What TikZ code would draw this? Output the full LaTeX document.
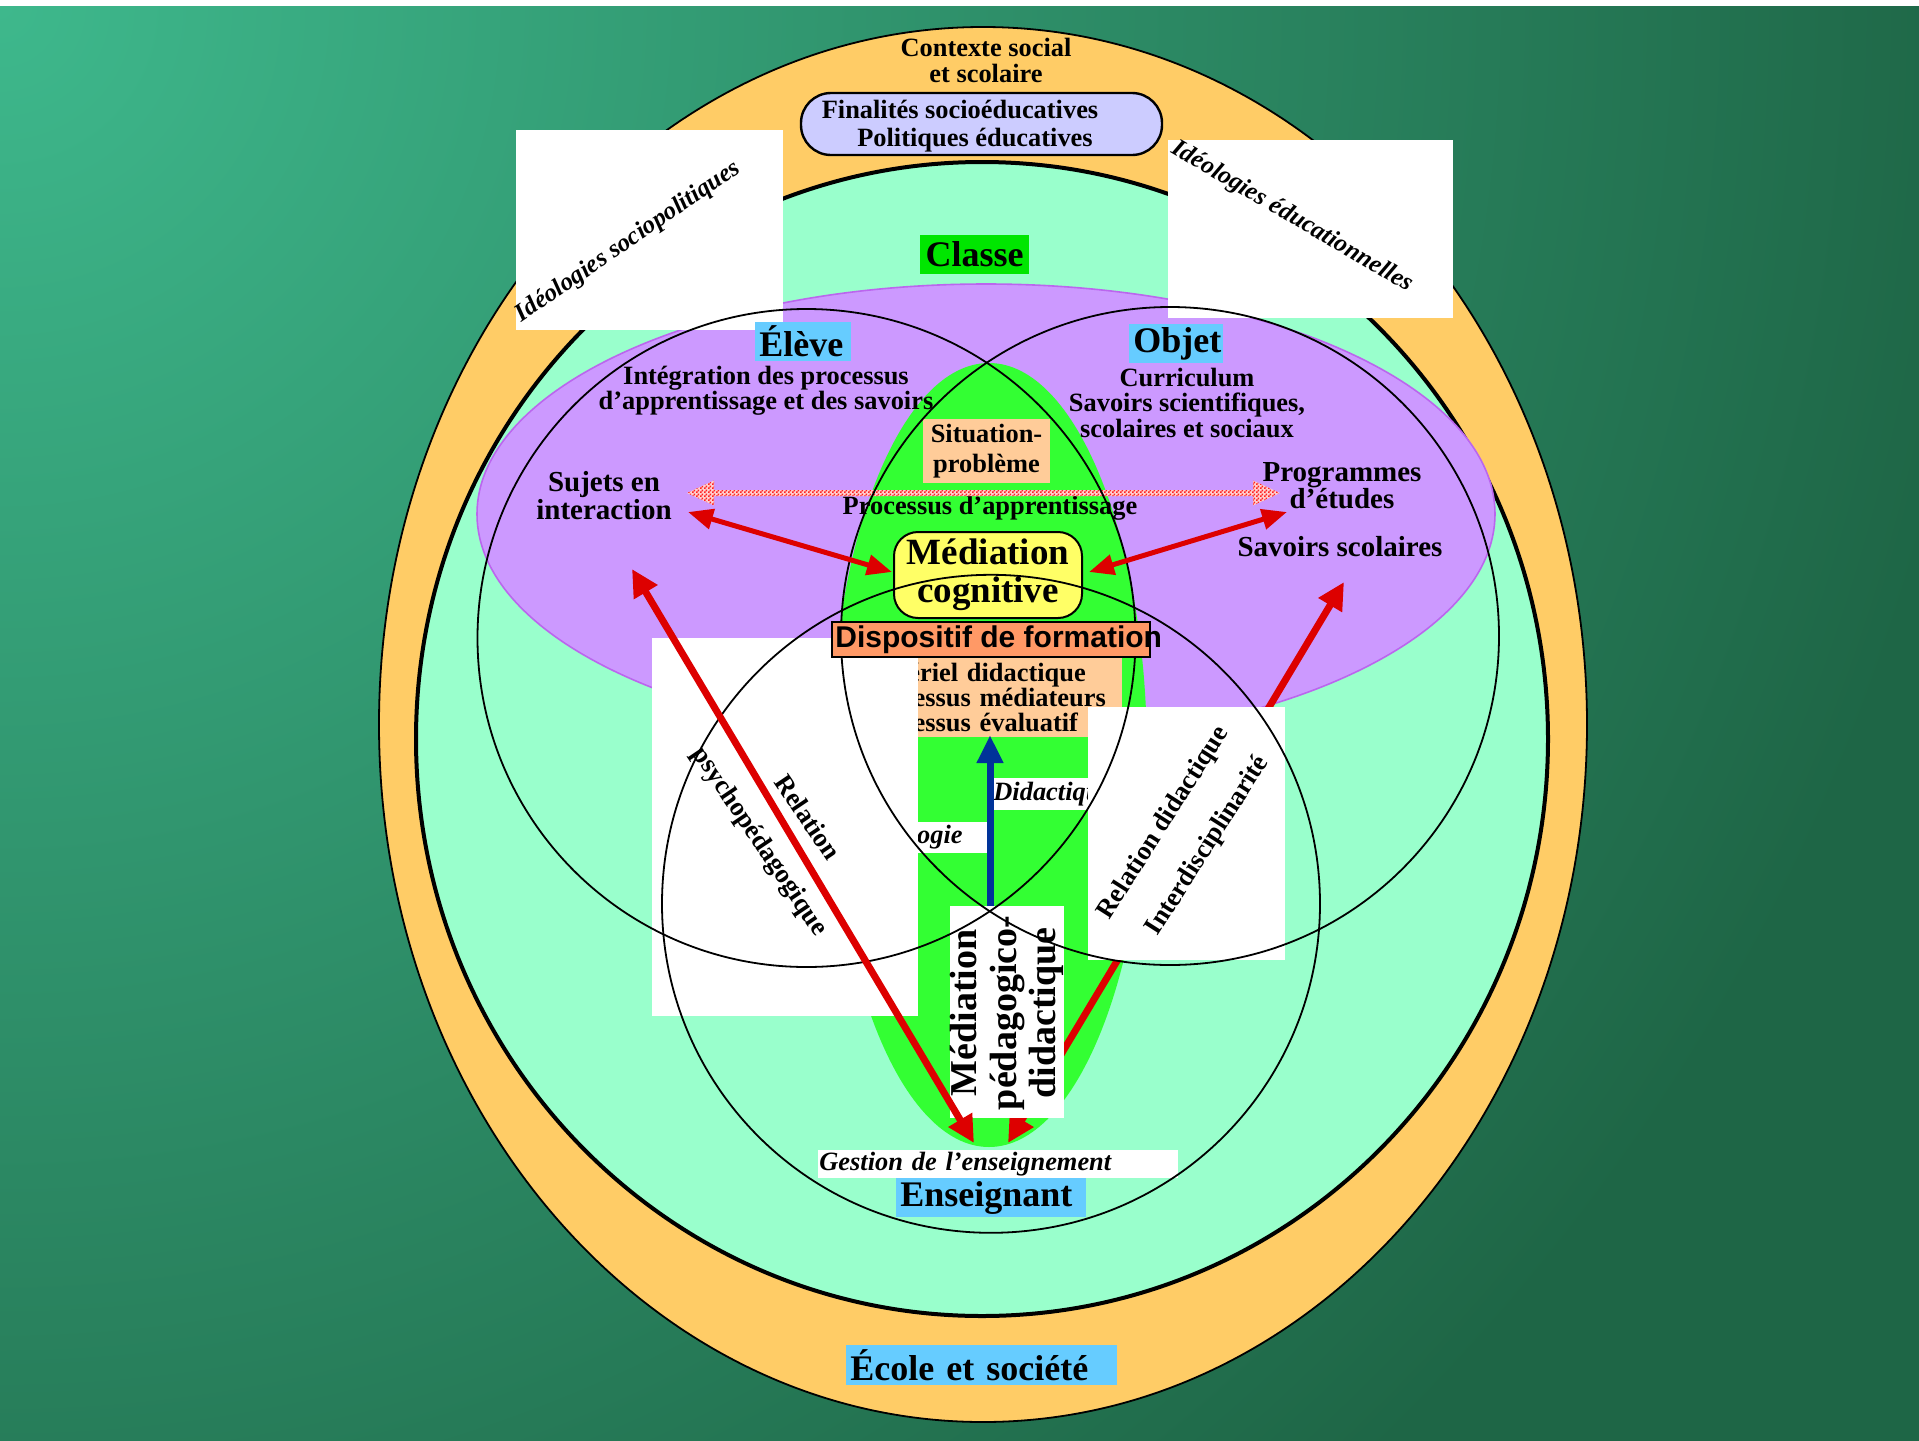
\documentclass[tikz,border=0pt]{standalone}
\usepackage{fontspec}
\setmainfont{Liberation Serif}
\newfontfamily\dispfont{Liberation Sans}
\usetikzlibrary{arrows.meta,patterns}
\pgfdeclarepatternformonly{finecheck}{\pgfpointorigin}{\pgfqpoint{2pt}{2pt}}{\pgfqpoint{2pt}{2pt}}{%
  \pgfpathrectangle{\pgfpointorigin}{\pgfqpoint{1pt}{1pt}}%
  \pgfpathrectangle{\pgfqpoint{1pt}{1pt}}{\pgfqpoint{1pt}{1pt}}%
  \pgfusepath{fill}}
\definecolor{bglight}{HTML}{3EB88C}
\definecolor{bgdark}{HTML}{1E6646}
\definecolor{bandorange}{HTML}{FFCC66}
\definecolor{mint}{HTML}{99FFCC}
\definecolor{lilac}{HTML}{CC99FF}
\definecolor{lilacline}{HTML}{BB66EE}
\definecolor{lensgreen}{HTML}{33FF33}
\definecolor{classegreen}{HTML}{00E600}
\definecolor{skyblue}{HTML}{66CCFF}
\definecolor{peach}{HTML}{FFCC99}
\definecolor{lemon}{HTML}{FFFF66}
\definecolor{salmon}{HTML}{FF9966}
\definecolor{lavender}{HTML}{CCCCFF}
\definecolor{arrred}{HTML}{DD0000}
\definecolor{arrblue}{HTML}{003399}
\definecolor{checkred}{HTML}{FF2222}
\definecolor{checkbase}{HTML}{FFD0D0}
\tikzset{
  body/.style={font=\fontsize{13.2}{12.6}\selectfont\bfseries, inner sep=0pt, align=center},
  bigger/.style={font=\fontsize{14.5}{14}\selectfont\bfseries, inner sep=0pt, align=center},
  head/.style={font=\fontsize{18}{19}\selectfont\bfseries, inner xsep=2pt, inner ysep=0pt,
    minimum height=19.5pt, fill=skyblue, anchor=west, align=left},
  whitebox/.style={fill=white},
  rottxt/.style={font=\fontsize{12.6}{13}\selectfont\bfseries\itshape, inner sep=0pt},
  reltxt/.style={font=\fontsize{13.3}{13}\selectfont\bfseries, inner sep=0pt},
  circ/.style={draw=black, line width=0.9pt},
  redshort/.style={draw=arrred, line width=2.5pt,
    arrows={Triangle[length=12.5pt,width=10pt]-Triangle[length=12.5pt,width=10pt]}},
  redlong/.style={draw=arrred, line width=3.5pt,
    arrows={Triangle[length=13.5pt,width=13pt]-Triangle[length=13.5pt,width=13pt]}},
  bluearr/.style={draw=arrblue, line width=3.5pt, arrows={-Triangle[length=14pt,width=12.5pt]}},
  itlabel/.style={font=\fontsize{13.2}{13}\selectfont\bfseries\itshape, fill=white, inner ysep=0pt},
}
\begin{document}
\begin{tikzpicture}[x=0.5pt,y=-0.5pt]
\useasboundingbox (0,0) rectangle (1919,1441);
% background
\fill[white] (0,0) rectangle (1919,1441);
\fill[bgdark] (0,6) rectangle (1919,1441);
\begin{scope}
  \clip (0,6) rectangle (1919,1441);
  \shade[inner color=bglight, outer color=bgdark] (0,6) circle [radius=2000];
\end{scope}
% nested areas
\draw[fill=bandorange, line width=0.9pt] (983,724.5) ellipse [x radius=604, y radius=697.5];
\draw[fill=mint, line width=2pt] (982,739) ellipse [x radius=566, y radius=577];
\draw[fill=lilac, draw=lilacline, line width=0.8pt] (986,514) ellipse [x radius=509, y radius=230];
\fill[lensgreen] (989,755) ellipse [x radius=158, y radius=392];
% top texts
\node[body] (ctx) at (986,60.5) {Contexte social\\et scolaire};
\node[draw=black, line width=1.2pt, fill=lavender, rounded corners=15pt, minimum width=180.5pt,
  minimum height=31pt, inner sep=0pt] (finbox) at (981.5,124) {};
\node[body] (fin1) at (960,109) {Finalités socioéducatives};
\node[body] (fin2) at (975,140) {Politiques éducatives};
\node[font=\fontsize{18}{19}\selectfont\bfseries, fill=classegreen, minimum width=54.5pt,
  minimum height=19.5pt, inner sep=0pt] (classe) at (974.5,254.5) {Classe};
% labels
\node[head, text width=43pt] (objet) at (1129,343.5) {Objet};
\node[body] (integ) at (766,390.5) {Intégration des processus\\d’apprentissage et des savoirs};
\node[body, font=\fontsize{13.2}{12.75}\selectfont\bfseries] (curr) at (1187,402.5)
  {Curriculum\\Savoirs scientifiques,\\scolaires et sociaux};
\node[bigger] (sujets) at (604,496) {Sujets en\\interaction};
\node[bigger, font=\fontsize{14.5}{13.5}\selectfont\bfseries] (prog) at (1342,485.5) {Programmes\\d’études};
\node[bigger] (savsco) at (1340,547) {Savoirs scolaires};
\node[body, fill=peach, minimum width=63.5pt, minimum height=32pt,
  font=\fontsize{13.2}{15}\selectfont\bfseries] (sitpb) at (986.5,451) {Situation-\\problème};
\node[body] (procapp) at (990,508) {Processus d’apprentissage};
% checkered double arrow
\coordinate (chkL) at (687,493);
\path[fill=checkbase, postaction={pattern=finecheck, pattern color=checkred}]
  (chkL) -- ++(27,-12.5) -- ++(0,9.5) -- ++(539,0) -- ++(0,-9.5) -- ++(27,12.5)
  -- ++(-27,12.5) -- ++(0,-9.5) -- ++(-539,0) -- ++(0,9.5) -- cycle;
\node[draw=black, line width=1pt, fill=lemon, rounded corners=12pt, minimum width=94pt,
  minimum height=43pt, inner sep=0pt, font=\fontsize{18.5}{19}\selectfont\bfseries, align=center]
  (medcog) at (988,575) {Médiation\\cognitive};
\node[fill=peach, anchor=north west, inner xsep=2pt, inner ysep=0pt, text width=128.5pt,
  minimum height=39.5pt, align=left, font=\fontsize{13.2}{12.5}\selectfont\bfseries]
  (mat) at (857,658) {Matériel didactique\\Processus médiateurs\\Processus évaluatif};
\node[itlabel, anchor=east, inner xsep=0pt, minimum height=15.5pt] (peda) at (990,837.5)
  {Pédagogie\hspace*{13.5pt}};
\node[itlabel, anchor=west, inner xsep=1.5pt, minimum height=16pt] (dida) at (990,794) {Didactique};
\node[itlabel, anchor=west, inner xsep=0.5pt, minimum height=14pt, text width=179pt, align=left]
  (gest) at (818,1164) {Gestion de l’enseignement};
\node[head, text width=91pt] (ens) at (896,1197.5) {Enseignant};
\node[head, text width=131.5pt, minimum height=20pt] (ecole) at (846,1365) {\'{E}cole et société};
% arrow behind the white boxes
\coordinate (r4a) at (1008,1143);
\coordinate (r4b) at (1344,582);
\draw[redlong] (r4a) -- (r4b);
% white boxes with rotated texts
\fill[whitebox] (516,130) rectangle (783,330);
\fill[whitebox] (1168,140) rectangle (1453,318);
\fill[whitebox] (652,638) rectangle (918,1016);
\fill[whitebox] (1088,707) rectangle (1285,960);
\fill[whitebox] (950,906) rectangle (1064,1118);
\node[rottxt, rotate=34.5] (ideoL) at (628,242) {Idéologies sociopolitiques};
\node[rottxt, rotate=-30.4] (ideoR) at (1292,217) {Idéologies éducationnelles};
\node[reltxt, rotate=-56] (rel1) at (808,817) {Relation};
\node[reltxt, rotate=-56] (rel2) at (759,842) {psychopédagogique};
\node[reltxt, rotate=57.5] (rel3) at (1164,823) {Relation didactique};
\node[reltxt, rotate=57.5] (rel4) at (1208,846) {Interdisciplinarité};
\node[font=\fontsize{19}{19.75}\selectfont\bfseries, rotate=90, align=center, inner sep=0pt]
  (mpd) at (1007,1013) {Médiation\\pédagogico-\\didactique};
% label lying over the corner of the left white box
\node[head, text width=44pt] (eleve) at (755,341.5) {\'{E}l\`{e}ve};
% circles
\coordinate (cE) at (806.5,638);
\coordinate (cO) at (1170,636);
\coordinate (cT) at (991,903.8);
\draw[circ] (cE) circle [radius=329];
\draw[circ] (cO) circle [radius=329];
\draw[circ] (cT) circle [radius=329];
% arrows
\coordinate (a1s) at (688,512); \coordinate (a1e) at (892,572);
\coordinate (a2s) at (1089,572); \coordinate (a2e) at (1287,512);
\coordinate (a3s) at (974,1143); \coordinate (a3e) at (632,569);
\coordinate (bls) at (990,906); \coordinate (ble) at (990,735);
\draw[redshort] (a1s) -- (a1e);
\draw[redshort] (a2s) -- (a2e);
\draw[redlong] (a3s) -- (a3e);
\draw[bluearr] (bls) -- (ble);
% dispositif
\node[draw=black, line width=1pt, fill=salmon, minimum width=159pt, minimum height=17.5pt,
  inner sep=0pt] (dispobox) at (991,639.5) {};
\node[anchor=west, inner sep=0pt, font=\dispfont\fontsize{15}{15}\selectfont\bfseries]
  (dispo) at (835,639.5) {Dispositif de formation};
\end{tikzpicture}
\end{document}
